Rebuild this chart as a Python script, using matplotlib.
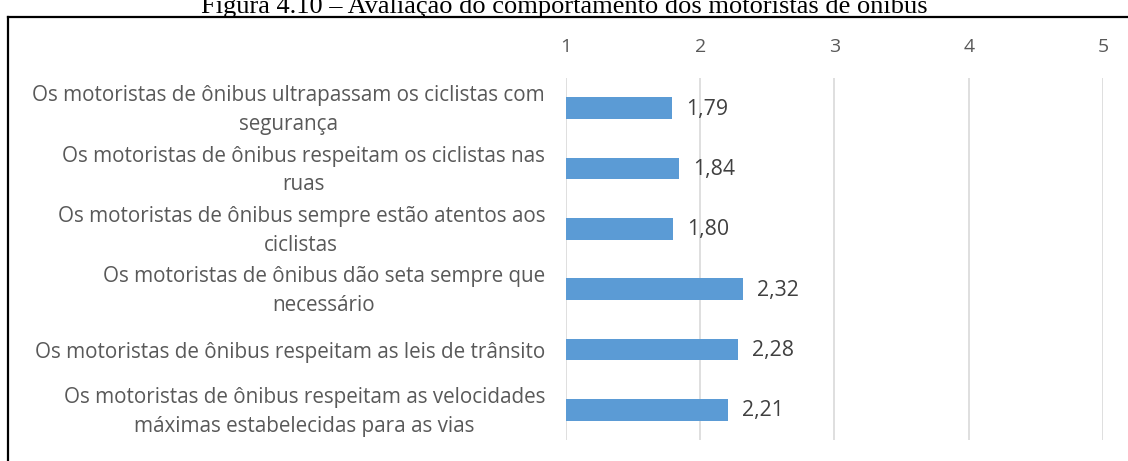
import matplotlib.pyplot as plt
from matplotlib.lines import Line2D
import numpy as np

categories = [
    "Os motoristas de ônibus ultrapassam os ciclistas com\nsegurança",
    "Os motoristas de ônibus respeitam os ciclistas nas\nruas",
    "Os motoristas de ônibus sempre estão atentos aos\nciclistas",
    "Os motoristas de ônibus dão seta sempre que\nnecessário",
    "Os motoristas de ônibus respeitam as leis de trânsito",
    "Os motoristas de ônibus respeitam as velocidades\nmáximas estabelecidas para as vias",
]
values = [1.79, 1.84, 1.80, 2.32, 2.28, 2.21]
ticks = [1, 2, 3, 4, 5]

plt.rcParams['font.family'] = ['Open Sans', 'DejaVu Sans']

fig = plt.figure(figsize=(11.28, 4.61), dpi=100)
ax = fig.add_axes([0.5018, 0.0456, 0.4760, 0.7852])

y = np.arange(len(categories))
ax.barh(y, [v - 1 for v in values], left=1, height=0.36, color='#5B9BD5', zorder=3)

for yi, v in zip(y, values):
    ax.annotate(f"{v:.2f}".replace('.', ','), (v, yi), xytext=(14, -1),
                textcoords='offset pixels', va='center', ha='left',
                fontsize=15.3, color='#404040')

# category labels, centred lines, right edge just left of the axis
for yi, lab in zip(y, categories):
    dy = -2 if '\n' in lab else -3
    ax.annotate(lab, (1, yi), xytext=(-21, dy), textcoords='offset pixels',
                ha='right', va='center', multialignment='center',
                linespacing=1.48, fontsize=14.9, color='#595959',
                annotation_clip=False)

ax.set_xlim(1, 5)
ax.set_ylim(len(categories) - 0.5, -0.5)
ax.set_xticks(ticks)
ax.set_xticklabels([str(t) for t in ticks])
ax.xaxis.tick_top()
ax.tick_params(axis='x', length=0, pad=15.5, labelsize=14, labelcolor='#595959')
ax.set_yticks(y)
ax.set_yticklabels([])
ax.tick_params(axis='y', length=0)

ax.grid(axis='x', color='#D9D9D9', linewidth=1.2, zorder=0)
for s in ax.spines.values():
    s.set_visible(False)

fig.text(0.5, 0.972, "Figura 4.10 – Avaliação do comportamento dos motoristas de ônibus",
         ha='center', va='baseline', fontsize=19, family='Liberation Serif', color='black')

fig.add_artist(Line2D([8 / 1128, 1.0], [1 - 17 / 461] * 2, color='black', lw=1.6,
                      transform=fig.transFigure))
fig.add_artist(Line2D([8 / 1128] * 2, [0, 1 - 17 / 461], color='black', lw=1.6,
                      transform=fig.transFigure))

fig.savefig('out.png', dpi=100, facecolor='white')
